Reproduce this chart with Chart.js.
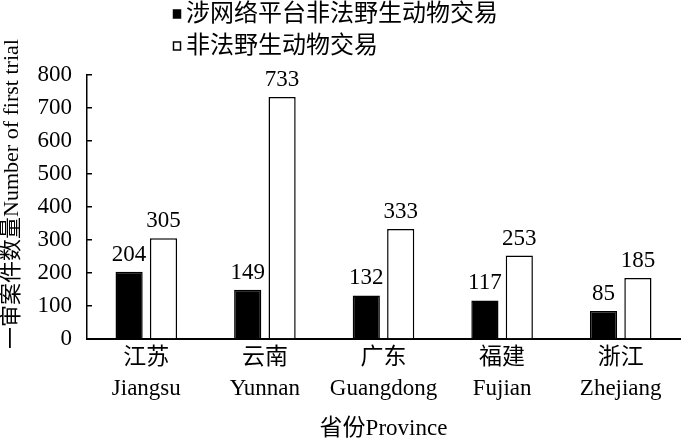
<!DOCTYPE html>
<html>
<head>
<meta charset="utf-8">
<script src="https://cdn.jsdelivr.net/npm/chart.js@4/dist/chart.umd.min.js"></script>
<style>
html,body{margin:0;padding:0;background:#fff;}
#wrap{width:700px;height:440px;position:relative;}
</style>
</head>
<body>
<div id="wrap"><canvas id="c" width="700" height="440"></canvas></div>
<script>
const categories = [["江苏","Jiangsu"],["云南","Yunnan"],["广东","Guangdong"],["福建","Fujian"],["浙江","Zhejiang"]];
const onlineTrade = [204, 149, 132, 117, 85];
const illegalTrade = [305, 733, 333, 253, 185];
const seriesNames = ["涉网络平台非法野生动物交易", "非法野生动物交易"];
const yTitle = "一审案件数量Number of first trial";
const xTitle = "省份Province";

const FONT = '"Liberation Serif", "Times New Roman", "Noto Sans CJK SC", serif';

const legendPlugin = {
  id: 'stackedLegend',
  afterDraw(chart) {
    const ctx = chart.ctx;
    ctx.save();
    ctx.font = '24px ' + FONT;
    ctx.textBaseline = 'middle';
    ctx.textAlign = 'left';
    const rows = [14, 46];
    chart.data.datasets.forEach((ds, i) => {
      const y = rows[i];
      ctx.fillStyle = ds.backgroundColor;
      ctx.strokeStyle = ds.borderColor;
      ctx.lineWidth = 1.5;
      ctx.fillRect(173.5, y - 4, 7, 8);
      ctx.strokeRect(173.5, y - 4, 7, 8);
      ctx.fillStyle = '#000';
      ctx.fillText(ds.label, 186, y + 1);
    });
    ctx.restore();
  }
};

const yTitlePlugin = {
  id: 'yTitle',
  afterDraw(chart) {
    const ctx = chart.ctx;
    ctx.save();
    ctx.font = '22px ' + FONT;
    ctx.fillStyle = '#000';
    ctx.textAlign = 'center';
    ctx.textBaseline = 'middle';
    ctx.translate(12, 194);
    ctx.rotate(-Math.PI / 2);
    ctx.fillText(yTitle, 0, 0);
    ctx.restore();
  }
};

const valueLabels = {
  id: 'valueLabels',
  afterDatasetsDraw(chart) {
    const ctx = chart.ctx;
    ctx.save();
    ctx.font = '23px ' + FONT;
    ctx.fillStyle = '#000';
    ctx.textAlign = 'center';
    ctx.textBaseline = 'alphabetic';
    chart.data.datasets.forEach((ds, i) => {
      const meta = chart.getDatasetMeta(i);
      meta.data.forEach((bar, j) => {
        ctx.fillText(String(ds.data[j]), bar.x, bar.y - 11);
      });
    });
    ctx.restore();
  }
};

new Chart(document.getElementById('c'), {
  type: 'bar',
  data: {
    labels: categories,
    datasets: [
      { label: seriesNames[0], data: onlineTrade, backgroundColor: '#000', borderColor: '#000', borderWidth: 1.5,
        categoryPercentage: 0.58, barPercentage: 0.79 },
      { label: seriesNames[1], data: illegalTrade, backgroundColor: '#fff', borderColor: '#000', borderWidth: 1.5,
        categoryPercentage: 0.58, barPercentage: 0.79 }
    ]
  },
  options: {
    responsive: false,
    animation: false,
    events: [],
    layout: { padding: { top: 75, right: 20, bottom: 0, left: 0 } },
    plugins: {
      legend: { display: false },
      tooltip: { enabled: false }
    },
    scales: {
      x: {
        grid: { display: false, drawTicks: false },
        border: { display: true, color: '#000', width: 2 },
        ticks: { color: '#000', font: { family: FONT, size: 23, lineHeight: 1.35 }, padding: 3, maxRotation: 0, autoSkip: false },
        title: { display: true, text: xTitle, color: '#000', font: { family: FONT, size: 23, lineHeight: 1.0 }, padding: 0 },
        afterFit(scale) { scale.height = 101; }
      },
      y: {
        min: 0, max: 800,
        grid: { drawOnChartArea: false, drawTicks: true, tickLength: -5, color: '#000', lineWidth: 1.5 },
        border: { display: true, color: '#000', width: 1.5 },
        ticks: { stepSize: 100, color: '#000', font: { family: FONT, size: 23 }, padding: 20 },
        title: { display: false },
        afterFit(scale) { scale.width = 87; }
      }
    }
  },
  plugins: [legendPlugin, yTitlePlugin, valueLabels]
});
</script>
</body>
</html>
